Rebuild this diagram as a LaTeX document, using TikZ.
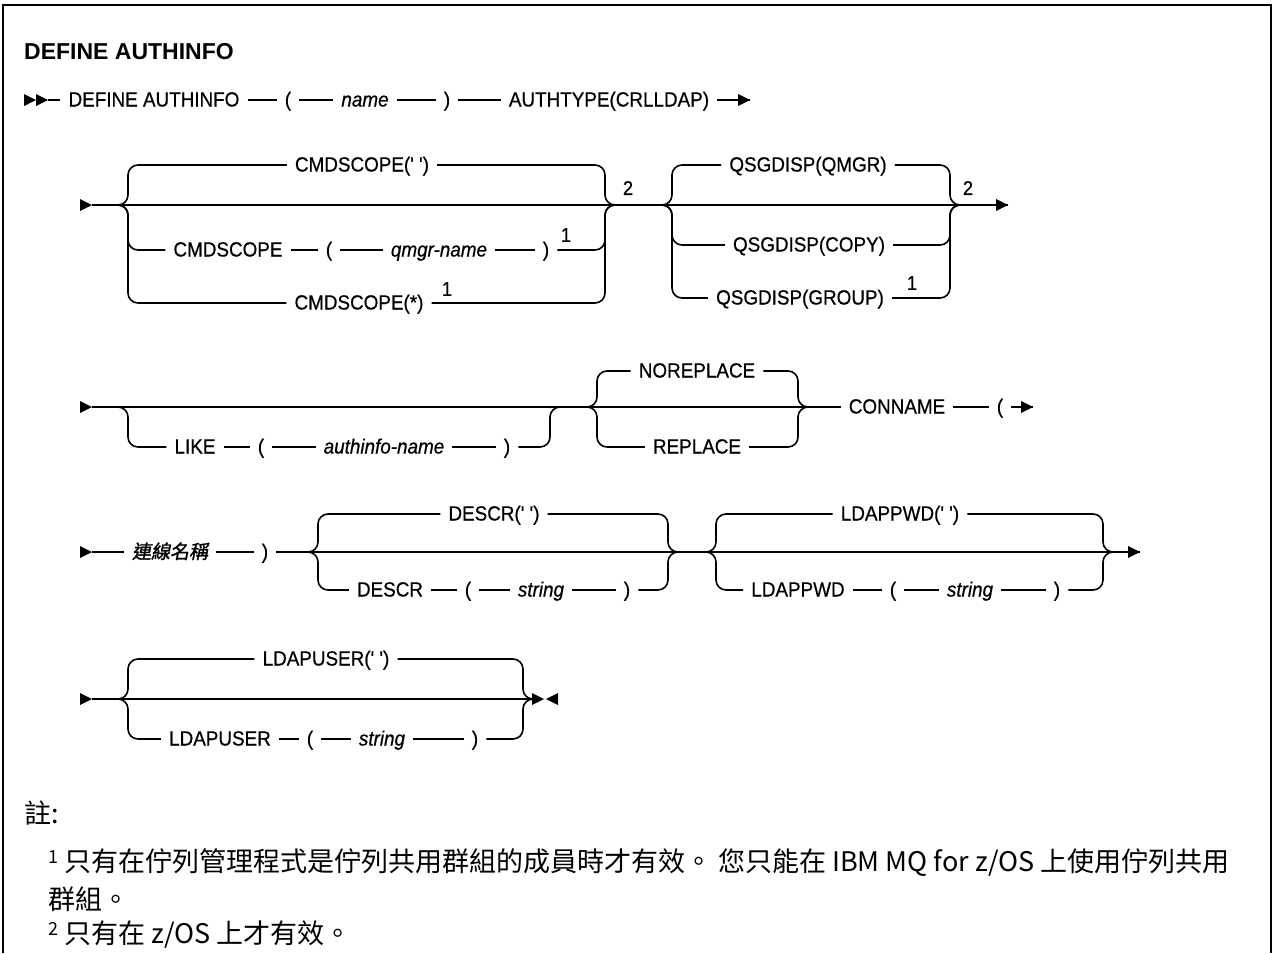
\documentclass[tikz,border=0pt]{standalone}
\usepackage{fontspec}
\setmainfont{Liberation Sans}
\newfontfamily\lblfont[FakeStretch=0.92,FakeBold=0.6]{Liberation Sans}
\newfontfamily\cjkfont{Noto Sans CJK TC}
\newfontfamily\cjkslant[FakeSlant=0.2,FakeBold=1.5]{Noto Sans CJK TC}
\begin{document}
\begin{tikzpicture}[x=1pt,y=-1pt,
  ln/.style={line width=1.6pt},
  rail/.style={line width=1.6pt, rounded corners=10pt},
  lbl/.style={font=\lblfont\fontsize{20.5}{24}\selectfont, inner xsep=8pt, inner ysep=2pt, text height=17pt, text depth=4pt, anchor=center},
  ilbl/.style={lbl, font=\lblfont\fontsize{20.5}{24}\selectfont\itshape},
  clbl/.style={lbl, font=\cjkslant\fontsize{19}{22}\selectfont},
  supr/.style={font=\lblfont\fontsize{20}{22}\selectfont, inner sep=0pt},
  note/.style={font=\cjkfont\fontsize{27}{32}\selectfont, anchor=west, inner sep=0pt},
  rtri/.pic={\fill (-6,-6) -- (6,0) -- (-6,6) -- cycle;},
  ltri/.pic={\fill (6,-6) -- (-6,0) -- (6,6) -- cycle;}
]
\useasboundingbox (0,0) rectangle (1274,953);
% frame
\draw[line width=2.5pt] (3,953) -- (3,5) -- (1271,5) -- (1271,953);
% title
\node[font=\bfseries\fontsize{23}{26}\selectfont, anchor=west, inner sep=0pt] (title) at (24,52) {DEFINE AUTHINFO};

% ---------- row 1 ----------
\pic at (30,100) {rtri};
\pic at (42,100) {rtri};
\coordinate (r1s) at (48,100);
\node[lbl] (r1a) at (154,100) {DEFINE AUTHINFO};
\node[lbl] (r1b) at (288,100) {(};
\node[ilbl] (r1c) at (365,100) {name};
\node[lbl] (r1d) at (447,100) {)};
\node[lbl] (r1e) at (609,100) {AUTHTYPE(CRLLDAP)};
\coordinate (r1end) at (750,100);
\draw[ln] (r1s) -- (r1a);
\draw[ln] (r1a) -- (r1b);
\draw[ln] (r1b) -- (r1c);
\draw[ln] (r1c) -- (r1d);
\draw[ln] (r1d) -- (r1e);
\draw[ln] (r1e) -- (r1end);
\pic at (744,100) {rtri};

% ---------- row 2 ----------
\coordinate (r2s) at (92,205);
\coordinate (r2e) at (1008,205);
\draw[ln] (r2s) -- (r2e);
\pic at (86,205) {rtri};
\pic at (1002,205) {rtri};
% group 1
\coordinate (g1i) at (118,205);
\coordinate (g1L) at (128,205);
\coordinate (g1R) at (605,205);
\coordinate (g1o) at (615,205);
\node[lbl] (c1) at (362,165) {CMDSCOPE(' ')};
\node[lbl] (c2a) at (228,250) {CMDSCOPE};
\node[lbl] (c2b) at (329,250) {(};
\node[ilbl] (c2c) at (439,250) {qmgr-name};
\node[lbl] (c2d) at (546,250) {)};
\node[supr] (c2s) at (566,235) {1};
\node[lbl] (c3) at (359,303) {CMDSCOPE(*)};
\node[supr] (c3s) at (447,289) {1};
\node[supr] (g1n) at (628,188) {2};
\draw[rail] (g1i) -- (g1L) |- (c1.west);
\draw[rail] (c1.east) -| (g1R) -- (g1o);
\draw[rail] (g1i) -- (g1L) |- (c2a.west);
\draw[ln] (c2a) -- (c2b);
\draw[ln] (c2b) -- (c2c);
\draw[ln] (c2c) -- (c2d);
\draw[rail] (c2d.east) -| (g1R) -- (g1o);
\draw[rail] (g1i) -- (g1L) |- (c3.west);
\draw[rail] (c3.east) -| (g1R) -- (g1o);
% group 2
\coordinate (g2i) at (662,205);
\coordinate (g2L) at (672,205);
\coordinate (g2R) at (950,205);
\coordinate (g2o) at (960,205);
\node[lbl] (q1) at (808,165) {QSGDISP(QMGR)};
\node[lbl] (q2) at (809,245) {QSGDISP(COPY)};
\node[lbl] (q3) at (800,298) {QSGDISP(GROUP)};
\node[supr] (q3s) at (912,283) {1};
\node[supr] (g2n) at (968,188) {2};
\draw[rail] (g2i) -- (g2L) |- (q1.west);
\draw[rail] (q1.east) -| (g2R) -- (g2o);
\draw[rail] (g2i) -- (g2L) |- (q2.west);
\draw[rail] (q2.east) -| (g2R) -- (g2o);
\draw[rail] (g2i) -- (g2L) |- (q3.west);
\draw[rail] (q3.east) -| (g2R) -- (g2o);

% ---------- row 3 ----------
\coordinate (r3s) at (92,407);
\pic at (86,407) {rtri};
\coordinate (g3i) at (118,407);
\coordinate (g3L) at (128,407);
\coordinate (g3R) at (550,407);
\coordinate (g3o) at (560,407);
\node[lbl] (l1) at (195,447) {LIKE};
\node[lbl] (l2) at (261,447) {(};
\node[ilbl] (l3) at (384,447) {authinfo-name};
\node[lbl] (l4) at (507,447) {)};
\draw[rail] (g3i) -- (g3L) |- (l1.west);
\draw[ln] (l1) -- (l2);
\draw[ln] (l2) -- (l3);
\draw[ln] (l3) -- (l4);
\draw[rail] (l4.east) -| (g3R) -- (g3o);
\coordinate (g4i) at (587,407);
\coordinate (g4L) at (597,407);
\coordinate (g4R) at (798,407);
\coordinate (g4o) at (808,407);
\node[lbl] (n1) at (697,371) {NOREPLACE};
\node[lbl] (n2) at (697,447) {REPLACE};
\draw[rail] (g4i) -- (g4L) |- (n1.west);
\draw[rail] (n1.east) -| (g4R) -- (g4o);
\draw[rail] (g4i) -- (g4L) |- (n2.west);
\draw[rail] (n2.east) -| (g4R) -- (g4o);
\node[lbl] (cn) at (897,407) {CONNAME};
\node[lbl] (cp) at (1000,407) {(};
\coordinate (r3e) at (1033,407);
\draw[ln] (r3s) -- (cn);
\draw[ln] (cn) -- (cp);
\draw[ln] (cp) -- (r3e);
\pic at (1027,407) {rtri};

% ---------- row 4 ----------
\coordinate (r4s) at (92,552);
\pic at (86,552) {rtri};
\node[clbl] (k1) at (170,552) {連線名稱};
\node[lbl] (k2) at (265,552) {)};
\coordinate (r4e) at (1140,552);
\draw[ln] (r4s) -- (k1);
\draw[ln] (k1) -- (k2);
\draw[ln] (k2) -- (r4e);
\pic at (1134,552) {rtri};
\coordinate (g5i) at (308,552);
\coordinate (g5L) at (318,552);
\coordinate (g5R) at (668,552);
\coordinate (g5o) at (678,552);
\node[lbl] (d1) at (494,514) {DESCR(' ')};
\node[lbl] (d2) at (390,590) {DESCR};
\node[lbl] (d3) at (468,590) {(};
\node[ilbl] (d4) at (541,590) {string};
\node[lbl] (d5) at (627,590) {)};
\draw[rail] (g5i) -- (g5L) |- (d1.west);
\draw[rail] (d1.east) -| (g5R) -- (g5o);
\draw[rail] (g5i) -- (g5L) |- (d2.west);
\draw[ln] (d2) -- (d3);
\draw[ln] (d3) -- (d4);
\draw[ln] (d4) -- (d5);
\draw[rail] (d5.east) -| (g5R) -- (g5o);
\coordinate (g6i) at (706,552);
\coordinate (g6L) at (716,552);
\coordinate (g6R) at (1103,552);
\coordinate (g6o) at (1113,552);
\node[lbl] (p1) at (900,514) {LDAPPWD(' ')};
\node[lbl] (p2) at (798,590) {LDAPPWD};
\node[lbl] (p3) at (893,590) {(};
\node[ilbl] (p4) at (970,590) {string};
\node[lbl] (p5) at (1057,590) {)};
\draw[rail] (g6i) -- (g6L) |- (p1.west);
\draw[rail] (p1.east) -| (g6R) -- (g6o);
\draw[rail] (g6i) -- (g6L) |- (p2.west);
\draw[ln] (p2) -- (p3);
\draw[ln] (p3) -- (p4);
\draw[ln] (p4) -- (p5);
\draw[rail] (p5.east) -| (g6R) -- (g6o);

% ---------- row 5 ----------
\coordinate (r5s) at (92,699);
\pic at (86,699) {rtri};
\coordinate (r5e) at (531,699);
\draw[ln] (r5s) -- (r5e);
\pic at (538,699) {rtri};
\pic at (552,699) {ltri};
\coordinate (g7i) at (118,699);
\coordinate (g7L) at (128,699);
\coordinate (g7R) at (523,699);
\coordinate (g7o) at (531,699);
\node[lbl] (u1) at (326,659) {LDAPUSER(' ')};
\node[lbl] (u2) at (220,739) {LDAPUSER};
\node[lbl] (u3) at (310,739) {(};
\node[ilbl] (u4) at (382,739) {string};
\node[lbl] (u5) at (475,739) {)};
\draw[rail] (g7i) -- (g7L) |- (u1.west);
\draw[rail] (u1.east) -| (g7R) -- (g7o);
\draw[rail] (g7i) -- (g7L) |- (u2.west);
\draw[ln] (u2) -- (u3);
\draw[ln] (u3) -- (u4);
\draw[ln] (u4) -- (u5);
\draw[rail] (u5.east) -| (g7R) -- (g7o);

% ---------- notes ----------
\node[note] (nh) at (24,813) {註:};
\node[note] (nt1) at (48,863) {\raisebox{8pt}{\fontsize{18}{18}\selectfont 1} 只有在佇列管理程式是佇列共用群組的成員時才有效。 您只能在 IBM MQ for z/OS 上使用佇列共用};
\node[note] (nt1b) at (48,899) {群組。};
\node[note] (nt2) at (48,935) {\raisebox{8pt}{\fontsize{18}{18}\selectfont 2} 只有在 z/OS 上才有效。};
\end{tikzpicture}
\end{document}
